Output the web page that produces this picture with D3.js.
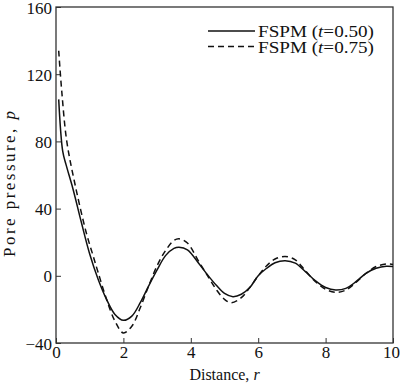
<!DOCTYPE html>
<html>
<head>
<meta charset="utf-8">
<script src="https://cdn.jsdelivr.net/npm/d3@7"></script>
<style>
  body { margin: 0; background: #fff; }
  text { font-family: "Liberation Serif", "Times New Roman", serif; fill: #111; }
</style>
</head>
<body>
<div id="chart"></div>
<script>
// values
var r_05 = [0.08, 0.2, 0.3, 0.5, 0.75, 1.0, 1.25, 1.5, 1.75, 2.0, 2.25, 2.5, 2.75, 3.0, 3.25, 3.5, 3.65, 3.9, 4.25, 4.5, 4.75, 5.0, 5.25, 5.5, 5.75, 6.0, 6.25, 6.5, 6.8, 7.1, 7.4, 7.7, 8.0, 8.3, 8.6, 8.9, 9.2, 9.5, 9.8, 10];
var p_05 = [105, 74, 66, 52, 32, 13, -2, -14, -23, -26.5, -24, -16, -6, 3.5, 12, 16.3, 17, 15.5, 7, 0.5, -5.5, -10.5, -12.4, -11, -7, 0, 4.5, 7.8, 9, 7.5, 2.5, -3, -7, -8.5, -7.5, -3.5, 1.5, 4.5, 5.7, 5.5];

var r_075 = [0.08, 0.17, 0.32, 0.58, 0.9, 1.1, 1.25, 1.5, 1.75, 2.0, 2.25, 2.5, 2.75, 3.0, 3.25, 3.5, 3.65, 3.9, 4.25, 4.5, 4.75, 5.0, 5.2, 5.5, 5.75, 6.0, 6.25, 6.5, 6.8, 7.1, 7.4, 7.7, 8.0, 8.3, 8.6, 8.9, 9.2, 9.5, 9.8, 10];
var p_075 = [134, 110, 80, 53, 25.5, 12, 2, -14, -27, -34, -30, -19, -6, 6, 15, 21, 22, 19.5, 8, 0, -8, -14, -16, -13, -7, 0, 6, 10, 11.5, 9.5, 3, -3.5, -8, -9.8, -8.5, -4, 1.5, 5.5, 7, 6.8];

var xTicks = [0, 2, 4, 6, 8, 10];
var yTicks = [-40, 0, 40, 80, 120, 160];
var seriesNames = ["0.50", "0.75"];

var W = 400, H = 386;
var margin = {left: 56, top: 7, right: 7, bottom: 43};
var w = W - margin.left - margin.right;
var h = H - margin.top - margin.bottom;

var svg = d3.select("#chart").append("svg")
    .attr("width", W).attr("height", H)
    .append("g")
    .attr("transform", "translate(" + margin.left + "," + margin.top + ")");

var x = d3.scaleLinear().domain([0, 10]).range([0, w]);
var y = d3.scaleLinear().domain([-40, 160]).range([h, 0]);

var xAxis = d3.axisBottom(x).tickValues(xTicks).tickSize(-5).tickPadding(3);
var yAxis = d3.axisLeft(y).tickValues(yTicks).tickSize(-5).tickPadding(4);

var gx = svg.append("g").attr("transform", "translate(0," + h + ")").call(xAxis);
var gy = svg.append("g").call(yAxis);
[gx, gy].forEach(function(g) {
    g.select(".domain").remove();
    g.selectAll("line").attr("stroke", "#333").attr("stroke-width", 1);
    g.selectAll("text").style("font-size", "17px")
        .style("font-family", "'Liberation Serif', serif").attr("fill", "#111")
        .text(function(d) { return d < 0 ? "\u2212" + (-d) : d; });
});
gx.selectAll("text").attr("dy", "0.71em")
    .attr("dx", function(d) { return d == 10 ? -2 : 0; });
gy.selectAll("text").attr("dy", "0.36em");

svg.append("rect")
    .attr("width", w).attr("height", h)
    .attr("fill", "none").attr("stroke", "#333").attr("stroke-width", 1.3);

var line = d3.line()
    .x(function(d) { return x(d[0]); })
    .y(function(d) { return y(d[1]); })
    .curve(d3.curveCatmullRom.alpha(0.5));

var data = [d3.zip(r_05, p_05), d3.zip(r_075, p_075)];
var dashes = [null, "6,4"];

svg.selectAll("path.curve")
    .data(data)
    .enter()
    .append("path")
    .attr("class", "curve")
    .attr("d", line)
    .attr("fill", "none")
    .attr("stroke", "#111")
    .attr("stroke-width", 1.5)
    .attr("stroke-dasharray", function(d, i) { return dashes[i]; });

// legend
var leg = svg.selectAll("g.leg")
    .data(seriesNames)
    .enter()
    .append("g")
    .attr("class", "leg")
    .attr("transform", function(d, i) {
        return "translate(" + 152 + "," + (24 + i * 15.5) + ")";
    });
leg.append("line")
    .attr("x1", 0).attr("x2", 47)
    .attr("stroke", "#111").attr("stroke-width", 1.5)
    .attr("stroke-dasharray", function(d, i) { return dashes[i]; });
var lt = leg.append("text")
    .attr("x", 50).attr("y", 6)
    .attr("textLength", 116)
    .attr("lengthAdjust", "spacingAndGlyphs")
    .style("font-size", "16px");
lt.append("tspan").text("FSPM (");
lt.append("tspan").style("font-style", "italic").text("t");
lt.append("tspan").text(function(d) { return "=" + d + ")"; });

// axis titles
var xl = svg.append("text")
    .attr("x", w / 2).attr("y", h + 37)
    .attr("text-anchor", "middle")
    .style("font-size", "16px");
xl.append("tspan").text("Distance, ");
xl.append("tspan").style("font-style", "italic").text("r");

var yl = svg.append("text")
    .attr("transform", "translate(" + (-41) + "," + 177 + ") rotate(-90)")
    .attr("text-anchor", "middle")
    .attr("textLength", 146)
    .attr("lengthAdjust", "spacing")
    .style("font-size", "17px");
yl.append("tspan").text("Pore pressure, ");
yl.append("tspan").style("font-style", "italic").text("p");
</script>
</body>
</html>
